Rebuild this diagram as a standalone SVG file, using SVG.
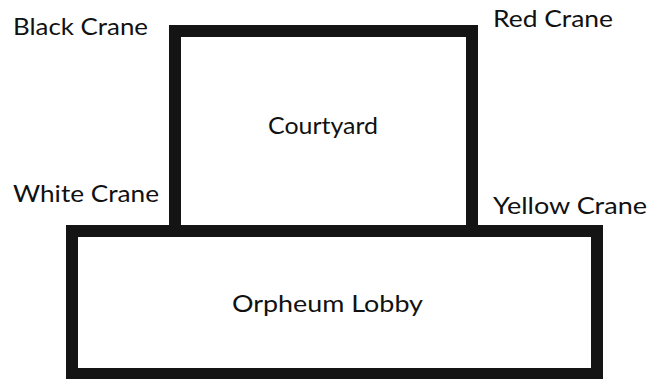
<svg xmlns="http://www.w3.org/2000/svg" width="650" height="379" viewBox="0 0 650 379">
<style>
.wall{fill:none;stroke:#141414;stroke-width:12;stroke-linejoin:miter}
.lbl{font-family:Lato,"Open Sans","Liberation Sans",sans-serif;font-size:24px;fill:#111}
</style>
<rect width="650" height="379" fill="#fff"/>
<g id="courtyard">
<rect class="wall" x="175" y="31" width="297" height="200"/>
<text class="lbl" x="268" y="134" textLength="110" lengthAdjust="spacingAndGlyphs">Courtyard</text>
</g>
<g id="lobby">
<rect class="wall" x="72" y="231" width="525" height="143" fill="#fff" style="fill:#fff"/>
<text class="lbl" x="232" y="312" textLength="191" lengthAdjust="spacingAndGlyphs">Orpheum Lobby</text>
</g>
<g id="black-crane"><text class="lbl" x="13" y="35" textLength="135" lengthAdjust="spacingAndGlyphs">Black Crane</text></g>
<g id="red-crane"><text class="lbl" x="493" y="27" textLength="120" lengthAdjust="spacingAndGlyphs">Red Crane</text></g>
<g id="white-crane"><text class="lbl" x="13" y="202" textLength="146" lengthAdjust="spacingAndGlyphs">White Crane</text></g>
<g id="yellow-crane"><text class="lbl" x="493" y="214" textLength="154" lengthAdjust="spacingAndGlyphs">Yellow Crane</text></g>
<g id="connectors"></g>
</svg>
